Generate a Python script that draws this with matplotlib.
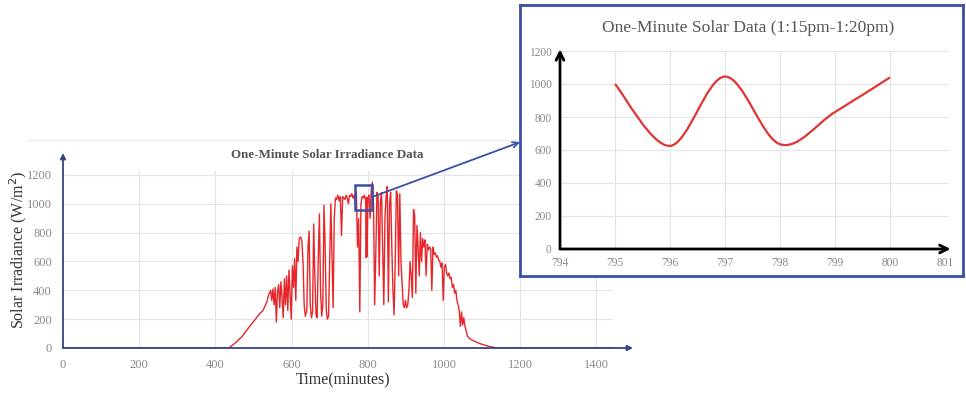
import numpy as np
import matplotlib
matplotlib.use("Agg")
import matplotlib.pyplot as plt
from matplotlib.path import Path
from matplotlib.patches import PathPatch, Rectangle, ConnectionPatch

# Main series: minute of day and irradiance (W/m^2).
main_minutes = [0, 435, 450, 470, 490, 505, 515, 525, 535, 540,
                545, 548, 551, 554, 557, 560, 563, 566, 569, 572, 575, 578, 581, 584, 587, 590,
                593, 596, 599, 602, 605, 608, 611, 614, 617, 620, 624, 627, 630, 633, 636,
                640, 643, 646, 649, 652, 655, 658, 661, 664, 667, 670, 673, 676, 679, 682,
                685, 688, 691, 694, 697, 700, 703, 706, 709, 712, 715, 718, 721,
                725, 728, 731, 734, 737, 740, 743, 746, 749, 752, 755, 758, 761, 764, 767,
                770, 773, 776, 779, 782, 785, 788, 791, 794, 795, 796, 797, 798, 799, 800,
                803, 806, 809, 812, 815, 818, 821, 824, 827, 830, 833, 836, 839, 842, 845,
                848, 851, 854, 857, 860, 863, 866, 869, 872, 875, 878, 881, 884, 887, 890,
                893, 896, 899, 902, 905, 908, 911, 914, 917, 920, 923, 926, 929, 932, 935,
                938, 941, 944, 947, 950, 953, 956, 959, 962, 965, 968, 971, 974, 977, 980,
                983, 986, 989, 992, 995, 998, 1001, 1004, 1007, 1010, 1013, 1016, 1019, 1022,
                1025, 1028, 1031, 1034, 1037, 1040, 1043, 1046, 1049, 1052, 1055, 1058, 1062,
                1070, 1085, 1100, 1120, 1140, 1440]
main_irradiance = [0, 0, 30, 80, 150, 200, 235, 260, 320, 370,
                   400, 330, 410, 300, 420, 180, 390, 440, 280, 460, 350, 210, 480, 300, 500, 260,
                   540, 380, 200, 570, 420, 620, 330, 700, 600, 760, 770, 740, 600, 300, 220,
                   260, 700, 810, 300, 210, 250, 860, 500, 230, 210, 620, 930, 400, 220, 300,
                   990, 700, 260, 200, 220, 600, 1000, 650, 280, 900, 1040, 1030, 1060,
                   1020, 1050, 780, 1050, 1040, 1030, 1060, 1040, 1000, 1060, 1050, 1070, 1040, 1060, 1000,
                   1080, 700, 900, 250, 1000, 1050, 1040, 1060, 1030, 1000, 625, 1045, 635, 830, 1040,
                   1060, 900, 1100, 1150, 1000, 300, 650, 1080, 1050, 500, 1000, 1080, 700, 300, 900,
                   1050, 1120, 320, 1000, 1080, 700, 400, 230, 600, 1090, 1060, 500, 1070, 600, 450,
                   300, 280, 330, 280, 300, 400, 600, 500, 350, 960, 920, 380, 850, 700, 500,
                   800, 600, 760, 700, 750, 500, 720, 680, 700, 690, 400, 700, 650, 660, 630,
                   640, 610, 600, 560, 590, 330, 560, 580, 520, 500, 520, 480, 490, 420,
                   440, 380, 400, 330, 300, 260, 150, 250, 160, 210, 150, 120, 80,
                   60, 40, 25, 10, 0, 0]

main_xticks = [0, 200, 400, 600, 800, 1000, 1200, 1400]
main_yticks = [0, 200, 400, 600, 800, 1000, 1200]

# Zoomed five minutes (1:15pm-1:20pm).
inset_minutes = [795, 796, 797, 798, 799, 800]
inset_irradiance = [1000, 625, 1045, 635, 830, 1040]
inset_xticks = [794, 795, 796, 797, 798, 799, 800, 801]
inset_yticks = [0, 200, 400, 600, 800, 1000, 1200]

# Highlight box on the main chart (minutes, W/m^2).
box_minutes = (766, 811)
box_irradiance = (957, 1130)

plt.rcParams['font.family'] = ['Liberation Serif', 'DejaVu Serif']

W, H = 966, 394
fig = plt.figure(figsize=(W/100, H/100), dpi=100)
fig.patch.set_facecolor("white")

navy = "#34447f"
blue = "#3a4fa6"
grid = "#e4e4e4"
tick_grey = "#8a8a8a"

# Main chart.
ax = fig.add_axes([63/W, 46/H, 571.5/W, 210.5/H])
ax.set_xlim(0, 1500)
ax.set_ylim(0, 1460)
for s in ax.spines.values():
  s.set_visible(False)
for x in main_xticks[1:]:
  ax.plot([x, x], [0, 1230], color=grid, lw=0.8, zorder=0)
for y in main_yticks[1:]:
  ax.plot([0, 1441], [y, y], color=grid, lw=0.8, zorder=0)
ax.axhline(1442, xmin=-36/571.5, xmax=549/571.5, color="#ececec", lw=0.8, clip_on=False)
ax.plot(main_minutes, main_irradiance, color="#e8262a", lw=1.0, zorder=2)
ax.annotate('', xy=(1496, 0), xytext=(0, 0),
            arrowprops=dict(arrowstyle='-|>', color=navy, lw=1.3, mutation_scale=8, shrinkA=0, shrinkB=0), zorder=3)
ax.annotate('', xy=(0, 1352), xytext=(0, 0),
            arrowprops=dict(arrowstyle='-|>', color=navy, lw=1.3, mutation_scale=8, shrinkA=0, shrinkB=0), zorder=3)
ax.set_xticks(main_xticks)
ax.set_yticks(main_yticks)
ax.tick_params(length=0, labelsize=9, colors=tick_grey, pad=8)
ax.add_patch(Rectangle((box_minutes[0], box_irradiance[0]), box_minutes[1]-box_minutes[0],
                       box_irradiance[1]-box_irradiance[0], fill=False, ec=blue, lw=1.8, zorder=4))
fig.text(327/W, 1-155/H, "One-Minute Solar Irradiance Data", ha="center", va="center",
         fontsize=9.4, fontweight="bold", color="#555555")
fig.text(343/W, 1-380/H, "Time(minutes)", ha="center", va="center", fontsize=11.5, color="#333333")
fig.text(18/W, 1-250/H, "Solar Irradiance (W/m$^2$)", ha="center", va="center", rotation=90,
         fontsize=11.5, color="#333333")

# Inset frame.
frame = fig.add_axes([520/W, 1-276/H, 443/W, 271/H], zorder=5)
frame.set_xticks([])
frame.set_yticks([])
frame.set_facecolor("white")
for s in frame.spines.values():
  s.set_color(blue)
  s.set_linewidth(2)
frame.text(0.515, 0.915, "One-Minute Solar Data (1:15pm-1:20pm)", transform=frame.transAxes,
           ha="center", va="center", fontsize=12.6, color="#555555")

con = ConnectionPatch(xyA=(box_minutes[1], 1047), coordsA=ax.transData,
                      xyB=(0, 0.494), coordsB=frame.transAxes,
                      arrowstyle='->', color=blue, lw=1.3, mutation_scale=10, zorder=6)
fig.add_artist(con)

# Inset chart.
ins = fig.add_axes([560/W, 1-249/H, 390.5/W, 199.65/H], zorder=6)
ins.patch.set_alpha(0)
ins.set_xlim(794, 801.1)
ins.set_ylim(0, 1210)
for s in ins.spines.values():
  s.set_visible(False)
for x in inset_xticks[1:-1]:
  ins.plot([x, x], [0, 1200], color=grid, lw=0.8, zorder=0)
for y in inset_yticks[1:]:
  ins.plot([794, 801.05], [y, y], color=grid, lw=0.8, zorder=0)

# Smooth curve through the points (Catmull-Rom as cubic Bezier segments).
px = [inset_minutes[0]] + inset_minutes + [inset_minutes[-1]]
py = [inset_irradiance[0]] + inset_irradiance + [inset_irradiance[-1]]
verts = [(px[1], py[1])]
codes = [Path.MOVETO]
for i in range(1, len(px)-2):
  c1 = (px[i] + (px[i+1]-px[i-1])/6, py[i] + (py[i+1]-py[i-1])/6)
  c2 = (px[i+1] - (px[i+2]-px[i])/6, py[i+1] - (py[i+2]-py[i])/6)
  verts += [c1, c2, (px[i+1], py[i+1])]
  codes += [Path.CURVE4]*3
ins.add_patch(PathPatch(Path(verts, codes), fill=False, ec="#e03434", lw=1.6, zorder=2))

ins.annotate('', xy=(801.1, 0), xytext=(794, 0),
             arrowprops=dict(arrowstyle='->', color="black", lw=2, mutation_scale=14, shrinkA=0, shrinkB=0))
ins.annotate('', xy=(794, 1210), xytext=(794, 0),
             arrowprops=dict(arrowstyle='->', color="black", lw=2, mutation_scale=14, shrinkA=0, shrinkB=0))
ins.set_xticks(inset_xticks)
ins.set_yticks(inset_yticks)
ins.tick_params(length=0, labelsize=8.3, colors=tick_grey, pad=6)

fig.savefig("out.png", dpi=100)
